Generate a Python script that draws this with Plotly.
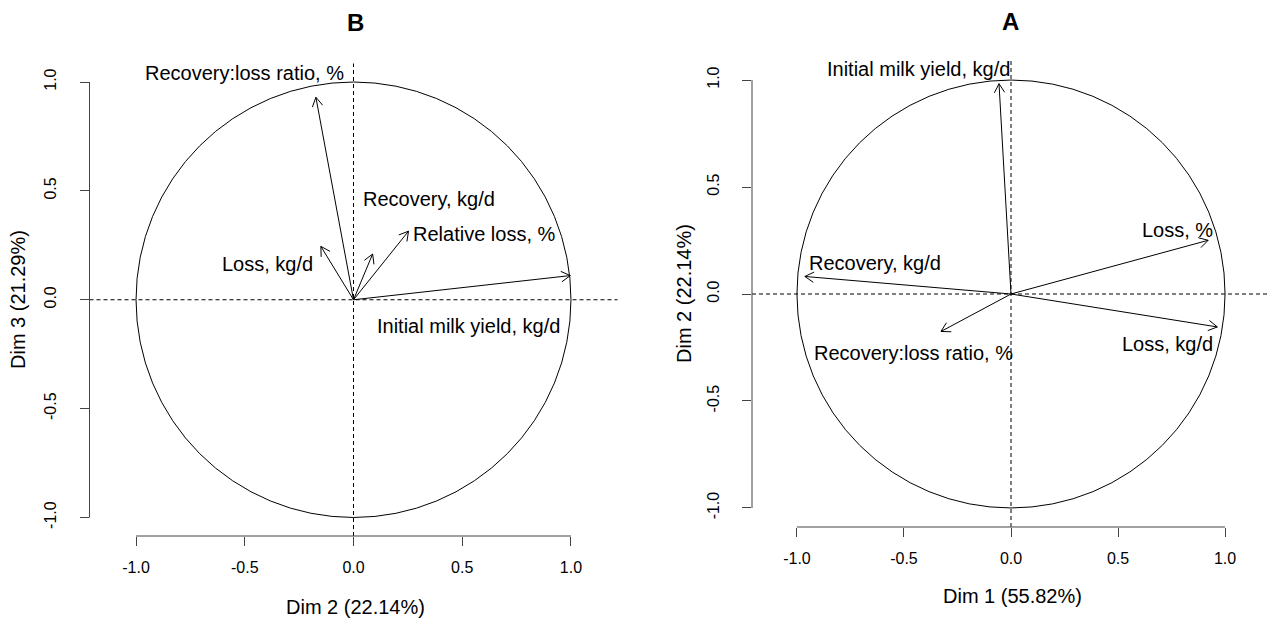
import math
import plotly.graph_objects as go

# ---------------- data ----------------
# Panel B (left): variables on Dim 2 (x) and Dim 3 (y)
b_vars = ["Recovery:loss ratio, %", "Loss, kg/d", "Recovery, kg/d",
          "Relative loss, %", "Initial milk yield, kg/d"]
b_dim2 = [-0.173, -0.150, 0.088, 0.253, 0.997]
b_dim3 = [0.930, 0.245, 0.210, 0.315, 0.111]

# Panel A (right): variables on Dim 1 (x) and Dim 2 (y)
a_vars = ["Initial milk yield, kg/d", "Loss, %", "Recovery, kg/d",
          "Loss, kg/d", "Recovery:loss ratio, %"]
a_dim1 = [-0.056, 0.921, -0.963, 0.964, -0.327]
a_dim2 = [0.983, 0.251, 0.082, -0.154, -0.175]

tick_vals = [-1.0, -0.5, 0.0, 0.5, 1.0]
tick_text = ["-1.0", "-0.5", "0.0", "0.5", "1.0"]

# ---------------- layout helpers (label placement, styles) ----------------
b_label_pos = [(-0.499, 1.040), (-0.395, 0.166), (0.349, 0.461),
               (0.600, 0.303), (0.531, -0.120)]
a_label_pos = [(-0.430, 1.050), (0.776, 0.300), (-0.635, 0.144),
               (0.730, -0.234), (-0.457, -0.278)]

FONT = "Liberation Sans, Arial, Helvetica, sans-serif"
AX_COL = "#444444"
W, H = 1277, 619
OFF = 8  # page body margin of the browser


def px(x):
    return (x - OFF) / W


def py(y):
    return 1 - (y - OFF) / H


def arrow_path(xs, ys, head=0.048, ang=30):
    pxs, pys = [], []
    a = math.radians(ang)
    for x, y in zip(xs, ys):
        pxs += [0, x, None]
        pys += [0, y, None]
        r = math.hypot(x, y)
        ux, uy = x / r, y / r
        for s in (a, -a):
            dx = ux * math.cos(s) - uy * math.sin(s)
            dy = ux * math.sin(s) + uy * math.cos(s)
            pxs += [x - head * dx, x, None]
            pys += [y - head * dy, y, None]
    return pxs, pys


fig = go.Figure()

bx, by = arrow_path(b_dim2, b_dim3)
fig.add_trace(go.Scatter(x=bx, y=by, mode="lines", xaxis="x", yaxis="y",
                         line=dict(color="black", width=1), hoverinfo="skip",
                         showlegend=False))
ax_, ay_ = arrow_path(a_dim1, a_dim2)
fig.add_trace(go.Scatter(x=ax_, y=ay_, mode="lines", xaxis="x2", yaxis="y2",
                         line=dict(color="black", width=1), hoverinfo="skip",
                         showlegend=False))

shapes = []
annotations = []
for xr, yr in (("x", "y"), ("x2", "y2")):
    shapes.append(dict(type="circle", xref=xr, yref=yr, x0=-1, x1=1, y0=-1, y1=1,
                       line=dict(color="black", width=1)))
    shapes.append(dict(type="line", xref=xr + " domain", yref=yr, x0=0, x1=1, y0=0, y1=0,
                       line=dict(color="black", width=1, dash="4px,3px")))
    shapes.append(dict(type="line", xref=xr, yref=yr + " domain", x0=0, x1=0, y0=0, y1=1,
                       line=dict(color="black", width=1, dash="4px,3px")))
    # R-style axis lines spanning only the tick range
    shapes.append(dict(type="line", xref=xr, yref=yr + " domain", x0=-1, x1=1, y0=0, y1=0,
                       line=dict(color=AX_COL, width=1)))
    shapes.append(dict(type="line", xref=xr + " domain", yref=yr, x0=0, x1=0, y0=-1, y1=1,
                       line=dict(color=AX_COL, width=1)))

for name, (lx, ly) in zip(b_vars, b_label_pos):
    annotations.append(dict(x=lx, y=ly, xref="x", yref="y", text=name, showarrow=False,
                            xanchor="center", yanchor="middle",
                            font=dict(family=FONT, size=20, color="black")))
for name, (lx, ly) in zip(a_vars, a_label_pos):
    annotations.append(dict(x=lx, y=ly, xref="x2", yref="y2", text=name, showarrow=False,
                            xanchor="center", yanchor="middle",
                            font=dict(family=FONT, size=20, color="black")))


def paper_text(text, x, y, size, angle=0):
    annotations.append(dict(x=px(x), y=py(y), xref="paper", yref="paper", text=text,
                            showarrow=False, xanchor="center", yanchor="middle",
                            textangle=angle,
                            font=dict(family=FONT, size=size, color="black")))


# titles
paper_text("<b>B</b>", 355, 22, 24)
paper_text("<b>A</b>", 1010, 21, 24)
# axis titles
paper_text("Dim 2 (22.14%)", 355, 607, 20)
paper_text("Dim 1 (55.82%)", 1013, 596, 20)
paper_text("Dim 3 (21.29%)", 18, 300, 20, -90)
paper_text("Dim 2 (22.14%)", 684, 294, 20, -90)

axis_common = dict(tickvals=tick_vals, ticktext=tick_text, ticks="outside", ticklen=9,
                   tickwidth=1, tickcolor=AX_COL, showgrid=False, zeroline=False,
                   showline=False, tickfont=dict(family=FONT, size=16, color="black"),
                   fixedrange=True)

fig.update_layout(
    width=W, height=H, autosize=False,
    margin=dict(l=0, r=0, t=0, b=0),
    paper_bgcolor="white", plot_bgcolor="white",
    showlegend=False,
    xaxis=dict(domain=[px(89.5), px(617.5)], range=[-1.214, 1.214], anchor="y",
               ticklabelstandoff=8, **axis_common),
    yaxis=dict(domain=[py(536), py(63.5)], range=[-1.085, 1.085], anchor="x",
               tickangle=-90, ticklabelstandoff=17, **axis_common),
    xaxis2=dict(domain=[px(752), px(1270)], range=[-1.21, 1.21], anchor="y2",
                ticklabelstandoff=8, **axis_common),
    yaxis2=dict(domain=[py(527), py(61)], range=[-1.089, 1.089], anchor="x2",
                tickangle=-90, ticklabelstandoff=17, **axis_common),
    shapes=shapes,
    annotations=annotations,
)

fig.write_html("out.html")
